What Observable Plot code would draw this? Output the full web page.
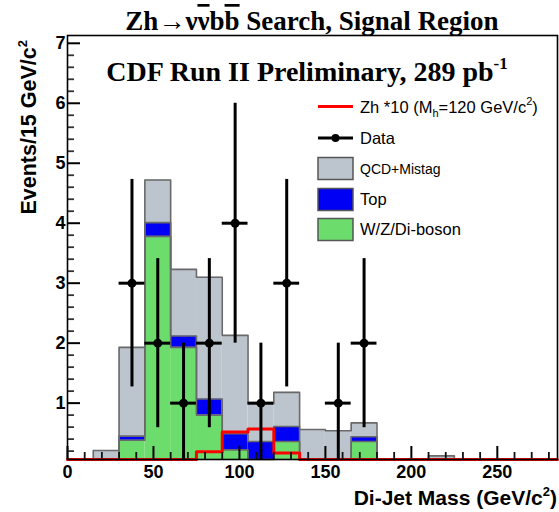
<!DOCTYPE html>
<html><head><meta charset="utf-8">
<script src="https://cdn.jsdelivr.net/npm/d3@7"></script>
<script src="https://cdn.jsdelivr.net/npm/@observablehq/plot@0.6"></script>
<style>body{margin:0;background:#fff}</style>
</head><body><div id="chart"></div>
<script>
// Di-jet mass bins (lower edges, GeV/c^2), 15 GeV wide
const binLow = [0,15,30,45,60,75,90,105,120,135,150,165,180,195,210,225,240,255,270];
const binWidth = 15;
// Background components (events per bin)
const wzBoson   = [0,0,0.38,3.78,1.93,0.80,0.22,0.03,0.36,0,0,0.36,0,0,0,0,0,0,0];
const topQuark  = [0,0,0.07,0.23,0.19,0.27,0.27,0.33,0.25,0,0,0.08,0,0,0,0,0,0,0];
const qcdMistag = [0,0.21,1.48,0.71,1.11,2.03,1.64,0.63,0.57,0.56,0.54,0.23,0,0,0.12,0,0,0,0];
// Signal Zh x10
const signalZh10 = [0,0,0,0,0,0.19,0.52,0.57,0.17,0,0,0,0,0,0,0,0,0,0];
// Observed data
const dataCenters = [37.5,52.5,67.5,82.5,97.5,112.5,127.5,157.5,172.5];
const dataCounts  = [3,2,1,2,4,1,3,1,2];
const dataErrors  = [1.73,1.41,1,1.41,2,1,1.73,1,1.41];
// Axis ticks
const xMajorTicks = [0,50,100,150,200,250];
const yMajorTicks = [1,2,3,4,5,6,7];
const componentNames = ["W/Z/Di-boson","Top","QCD+Mistag"];
const componentColors = ["#6cdc6c","#0000f4","#bcc5cd"];

const W = 559, H = 512, mT = 35, mB = 53, mL = 67, mR = 2;
const frameH = H - mT - mB, frameW = W - mL - mR;

const comps = [wzBoson, topQuark, qcdMistag];
const rows = binLow.flatMap((x, i) => comps.map((arr, k) => ({x1: x, x2: x + binWidth, y: arr[i], comp: componentNames[k]})));
const edges = binLow.concat([binLow[binLow.length - 1] + binWidth]);
const stepPts = vals => edges.map((x, i) => ({x, y: vals[Math.min(i, vals.length - 1)]}));
const cumWZ = wzBoson;
const cumTop = wzBoson.map((v, i) => v + topQuark[i]);
const cumAll = cumTop.map((v, i) => v + qcdMistag[i]);
const dataPts = dataCenters.map((c, i) => ({x: c, x1: c - binWidth / 2, x2: c + binWidth / 2, y: dataCounts[i], lo: dataCounts[i] - dataErrors[i], hi: dataCounts[i] + dataErrors[i]}));
const xMinor = d3.range(10, 285, 10).filter(v => v % 50 !== 0);
const yMinor = d3.range(1, 36).map(k => k / 5).filter(v => Math.abs(v - Math.round(v)) > 1e-6);

const outline = {x: "x", y: "y", curve: "step-after", stroke: "#6a6a6a", strokeWidth: 1.6};

const plot = Plot.plot({
  width: W, height: H, marginTop: mT, marginBottom: mB, marginLeft: mL, marginRight: mR,
  x: {domain: [0, 285]},
  y: {domain: [0.06, 7.13], clamp: true},
  color: {domain: componentNames, range: componentColors},
  style: {fontFamily: "'Liberation Sans', Arial, sans-serif", fontWeight: "bold", fontSize: "18px", background: "#fff", color: "#000", overflow: "visible"},
  marks: [
    Plot.rectY(rows, {x1: "x1", x2: "x2", y: "y", fill: "comp"}),
    Plot.line(stepPts(cumAll), outline),
    Plot.line(stepPts(cumTop), outline),
    Plot.line(stepPts(cumWZ), outline),
    Plot.line(stepPts(signalZh10), {x: "x", y: "y", curve: "step-after", stroke: "#ff0000", strokeWidth: 3}),
    Plot.ruleY(dataPts, {x1: "x1", x2: "x2", y: "y", stroke: "black", strokeWidth: 3}),
    Plot.ruleX(dataPts, {x: "x", y1: "lo", y2: "hi", stroke: "black", strokeWidth: 3}),
    Plot.dot(dataPts, {x: "x", y: "y", r: 4.5, fill: "black", stroke: "none"}),
    Plot.tickX(xMinor, {x: d => d, insetTop: frameH - 7, stroke: "#111", strokeWidth: 1.8}),
    Plot.tickX(xMajorTicks, {x: d => d, insetTop: frameH - 13, stroke: "#000", strokeWidth: 2}),
    Plot.tickY(yMinor, {y: d => d, insetRight: frameW - 7, stroke: "#333", strokeWidth: 1.8}),
    Plot.tickY(yMajorTicks, {y: d => d, insetRight: frameW - 13, stroke: "#000", strokeWidth: 2}),
    Plot.axisX({ticks: xMajorTicks, tickSize: 0, tickPadding: 6, label: null, tickFormat: d3.format("d"), fontSize: 18, fontWeight: "bold"}),
    Plot.axisY({ticks: yMajorTicks, tickSize: 0, tickPadding: 2, label: null, tickFormat: d3.format("d"), fontSize: 18, fontWeight: "bold"}),
    Plot.frame({stroke: "black", strokeWidth: 1.6})
  ]
});
document.getElementById("chart").appendChild(plot);

const svg = d3.select(plot);
const serif = "'Liberation Serif', 'Times New Roman', serif";
const sans = "'Liberation Sans', Arial, sans-serif";

const t1 = svg.append("text").attr("x", 312).attr("y", 30).attr("text-anchor", "middle")
  .attr("font-family", serif).attr("font-weight", "bold").attr("font-size", 27).attr("fill", "#000");
t1.append("tspan").text("Zh→ν");
t1.append("tspan").attr("text-decoration", "overline").text("ν");
t1.append("tspan").text("b");
t1.append("tspan").attr("text-decoration", "overline").text("b");
t1.append("tspan").text(" Search, Signal Region");

const t2 = svg.append("text").attr("x", 307).attr("y", 81).attr("text-anchor", "middle")
  .attr("font-family", serif).attr("font-weight", "bold").attr("font-size", 28).attr("fill", "#000");
t2.append("tspan").text("CDF Run II Preliminary, 289 pb");
t2.append("tspan").attr("font-size", 17).attr("dy", -12).text("-1");

const tx = svg.append("text").attr("x", 557).attr("y", 505).attr("text-anchor", "end")
  .attr("font-family", sans).attr("font-weight", "bold").attr("font-size", 21).attr("fill", "#000");
tx.append("tspan").text("Di-Jet Mass (GeV/c");
tx.append("tspan").attr("font-size", 13).attr("dy", -9).text("2");
tx.append("tspan").attr("dy", 9).text(")");

const ty = svg.append("text").attr("transform", "translate(36,40) rotate(-90)").attr("text-anchor", "end")
  .attr("font-family", sans).attr("font-weight", "bold").attr("font-size", 21.5).attr("fill", "#000");
ty.append("tspan").text("Events/15 GeV/c");
ty.append("tspan").attr("font-size", 13).attr("dy", -9).text("2");

const lg = svg.append("g").attr("font-family", sans).attr("font-size", 16.5).attr("font-weight", "normal")
  .attr("text-anchor", "start").attr("fill", "#000");
const lx = 318, lw = 35, tx0 = 360;
lg.append("line").attr("x1", lx).attr("x2", lx + lw).attr("y1", 106.5).attr("y2", 106.5).attr("stroke", "#ff0000").attr("stroke-width", 3);
const l1 = lg.append("text").attr("x", tx0).attr("y", 112.5);
l1.append("tspan").text("Zh *10 (M");
l1.append("tspan").attr("font-size", 11).attr("dy", 4).text("h");
l1.append("tspan").attr("dy", -4).text("=120 GeV/c");
l1.append("tspan").attr("font-size", 11).attr("dy", -8).text("2");
l1.append("tspan").attr("dy", 8).text(")");
lg.append("line").attr("x1", lx).attr("x2", lx + lw).attr("y1", 138).attr("y2", 138).attr("stroke", "#000").attr("stroke-width", 3);
lg.append("circle").attr("cx", lx + lw / 2).attr("cy", 138).attr("r", 4).attr("fill", "#000");
lg.append("text").attr("x", tx0).attr("y", 144).text("Data");
const boxes = [["QCD+Mistag", componentColors[2], 157.5, 14], ["Top", componentColors[1], 188.5, 16.5], ["W/Z/Di-boson", componentColors[0], 218.5, 16.5]];
boxes.forEach(([name, col, y0, fs]) => {
  lg.append("rect").attr("x", lx).attr("y", y0).attr("width", lw).attr("height", 22).attr("fill", col).attr("stroke", "#555").attr("stroke-width", 1.5);
  lg.append("text").attr("x", tx0).attr("y", y0 + 11 + fs * 0.36).attr("font-size", fs).text(name);
});
</script>
</body></html>
